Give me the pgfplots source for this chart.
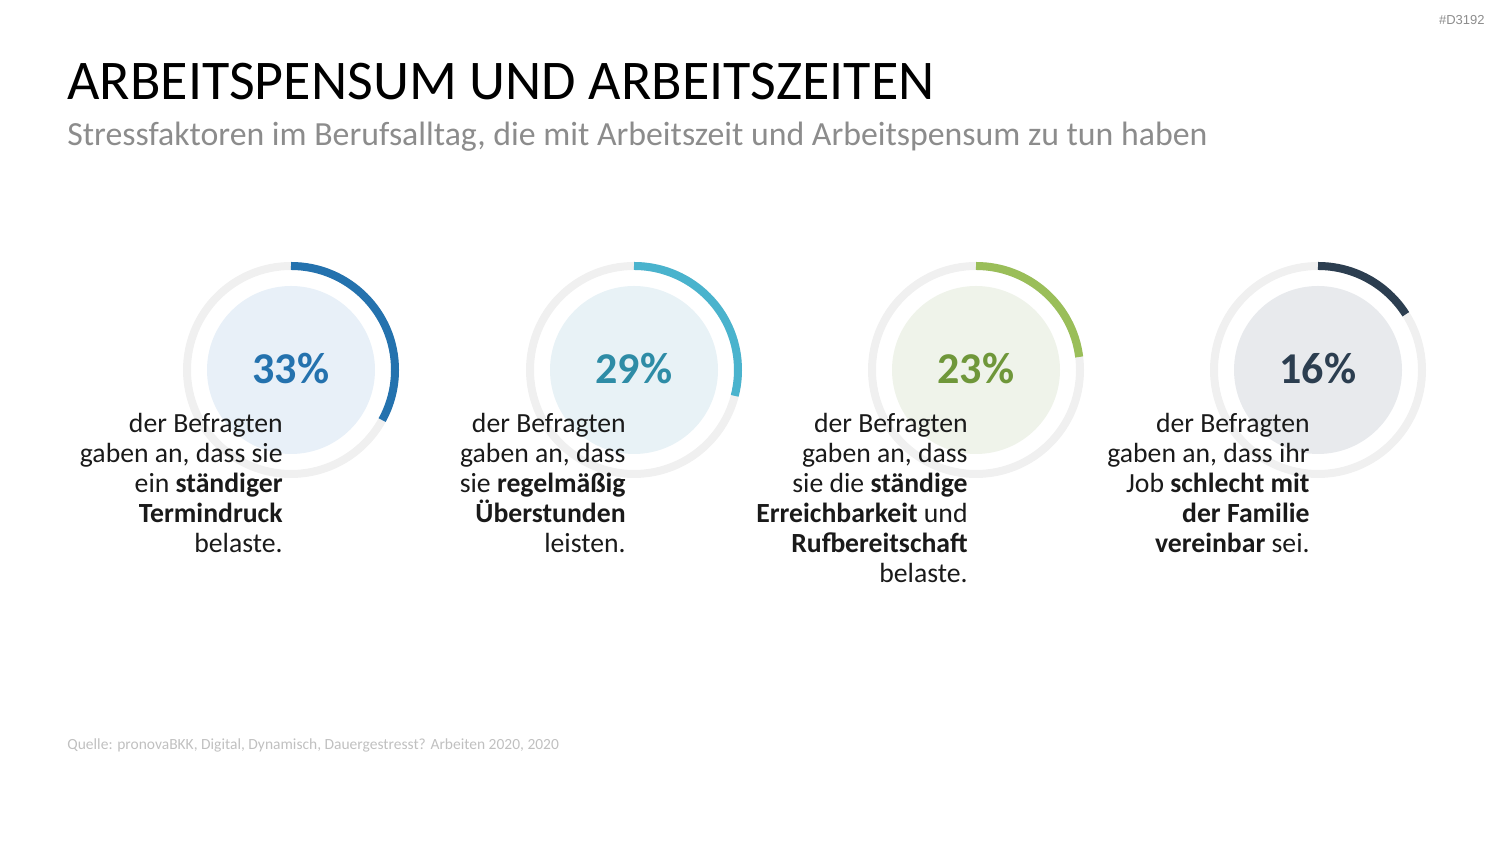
\documentclass[border=0pt]{standalone}
\usepackage{pgfplots}
\pgfplotsset{compat=1.18}
\usepackage{fontspec}
\setmainfont{Carlito}
\newfontfamily\tagfont{Liberation Sans}
\definecolor{ringgray}{HTML}{F0F0F0}
\definecolor{txt}{HTML}{1A1A1A}
\definecolor{subgray}{HTML}{8C8C8C}
\definecolor{srcgray}{HTML}{C0C0C0}
\definecolor{arcA}{HTML}{2472AE}
\definecolor{numA}{HTML}{2472AE}
\definecolor{fillA}{HTML}{E8F0F8}
\definecolor{arcB}{HTML}{4AB3CD}
\definecolor{numB}{HTML}{2E8CA6}
\definecolor{fillB}{HTML}{E8F2F6}
\definecolor{arcC}{HTML}{9ABE59}
\definecolor{numC}{HTML}{6F973A}
\definecolor{fillC}{HTML}{EFF3EA}
\definecolor{arcD}{HTML}{2C3E50}
\definecolor{numD}{HTML}{2C3E50}
\definecolor{fillD}{HTML}{E8EAED}
\newcommand{\body}{\fontsize{13.85pt}{15pt}\selectfont}
\begin{document}
\begin{tikzpicture}
\useasboundingbox (0,0) rectangle (750pt,422pt);
\begin{axis}[at={(0,0)}, anchor=south west, scale only axis,
  width=750pt, height=422pt, xmin=0, xmax=1500, ymin=0, ymax=844,
  hide axis, clip=false,
  /pgf/number format/assume math mode=true]
% ---- rings: value in percent ----
\newcommand{\ring}[4]{% x, value, arc colour, fill colour
  \draw[ringgray, line width=4pt] (axis cs:#1,474) circle[radius=52pt];
  \fill[#4] (axis cs:#1,474) circle[radius=42pt];
  \draw[#3, line width=4pt] (axis cs:#1,578) arc[start angle=90, delta angle={-3.6*#2}, radius=52pt];
}
\ring{291}{33}{arcA}{fillA}
\ring{634}{29}{arcB}{fillB}
\ring{976}{23}{arcC}{fillC}
\ring{1318}{16}{arcD}{fillD}
% ---- percentage labels ----
\addplot[draw=none, mark=none, point meta=explicit,
  nodes near coords={\pgfmathprintnumber{\pgfplotspointmeta}\%},
  every node near coord/.append style={anchor=base, font=\fontsize{22pt}{24pt}\selectfont\bfseries, text=numA}]
  coordinates {(291,460)[33]};
\addplot[draw=none, mark=none, point meta=explicit,
  nodes near coords={\pgfmathprintnumber{\pgfplotspointmeta}\%},
  every node near coord/.append style={anchor=base, font=\fontsize{22pt}{24pt}\selectfont\bfseries, text=numB}]
  coordinates {(634,460)[29]};
\addplot[draw=none, mark=none, point meta=explicit,
  nodes near coords={\pgfmathprintnumber{\pgfplotspointmeta}\%},
  every node near coord/.append style={anchor=base, font=\fontsize{22pt}{24pt}\selectfont\bfseries, text=numC}]
  coordinates {(976,460)[23]};
\addplot[draw=none, mark=none, point meta=explicit,
  nodes near coords={\pgfmathprintnumber{\pgfplotspointmeta}\%},
  every node near coord/.append style={anchor=base, font=\fontsize{22pt}{24pt}\selectfont\bfseries, text=numD}]
  coordinates {(1318,460)[16]};
% ---- descriptions ----
\tikzset{dl/.style={anchor=base east, inner sep=0pt, text=txt, font=\body}}
\node[dl] at (axis cs:283,411) {der Befragten};
\node[dl] at (axis cs:283,381) {gaben an, dass sie};
\node[dl] at (axis cs:283,351) {ein \textbf{ständiger}};
\node[dl] at (axis cs:283,321) {\textbf{Termindruck}};
\node[dl] at (axis cs:283,291) {belaste.};
\node[dl] at (axis cs:626,411) {der Befragten};
\node[dl] at (axis cs:626,381) {gaben an, dass};
\node[dl] at (axis cs:626,351) {sie \textbf{regelmäßig}};
\node[dl] at (axis cs:626,321) {\textbf{Überstunden}};
\node[dl] at (axis cs:626,291) {leisten.};
\node[dl] at (axis cs:968,411) {der Befragten};
\node[dl] at (axis cs:968,381) {gaben an, dass};
\node[dl] at (axis cs:968,351) {sie die \textbf{ständige}};
\node[dl] at (axis cs:968,321) {\textbf{Erreichbarkeit} und};
\node[dl] at (axis cs:968,291) {\textbf{Rufbereitschaft}};
\node[dl] at (axis cs:968,261) {belaste.};
\node[dl] at (axis cs:1310,411) {der Befragten};
\node[dl] at (axis cs:1310,381) {gaben an, dass ihr};
\node[dl] at (axis cs:1310,351) {Job \textbf{schlecht mit}};
\node[dl] at (axis cs:1310,321) {\textbf{der Familie}};
\node[dl] at (axis cs:1310,291) {\textbf{vereinbar} sei.};
% ---- titles ----
\node[anchor=base west, inner sep=0pt, font=\fontsize{28pt}{30pt}\selectfont] at (axis cs:67,744) {ARBEITSPENSUM UND ARBEITSZEITEN};
\node[anchor=base west, inner sep=0pt, text=subgray, font=\fontsize{16.9pt}{18pt}\selectfont] at (axis cs:67,698) {Stressfaktoren im Berufsalltag, die mit Arbeitszeit und Arbeitspensum zu tun haben};
\node[anchor=base west, inner sep=0pt, text=srcgray, font=\fontsize{7.75pt}{9pt}\selectfont] at (axis cs:67,94) {Quelle: pronovaBKK, Digital, Dynamisch, Dauergestresst? Arbeiten 2020, 2020};
\node[anchor=base east, inner sep=0pt, text=subgray, font=\tagfont\fontsize{6.5pt}{8pt}\selectfont] at (axis cs:1485,819) {\#D3192};
\end{axis}
\end{tikzpicture}
\end{document}
